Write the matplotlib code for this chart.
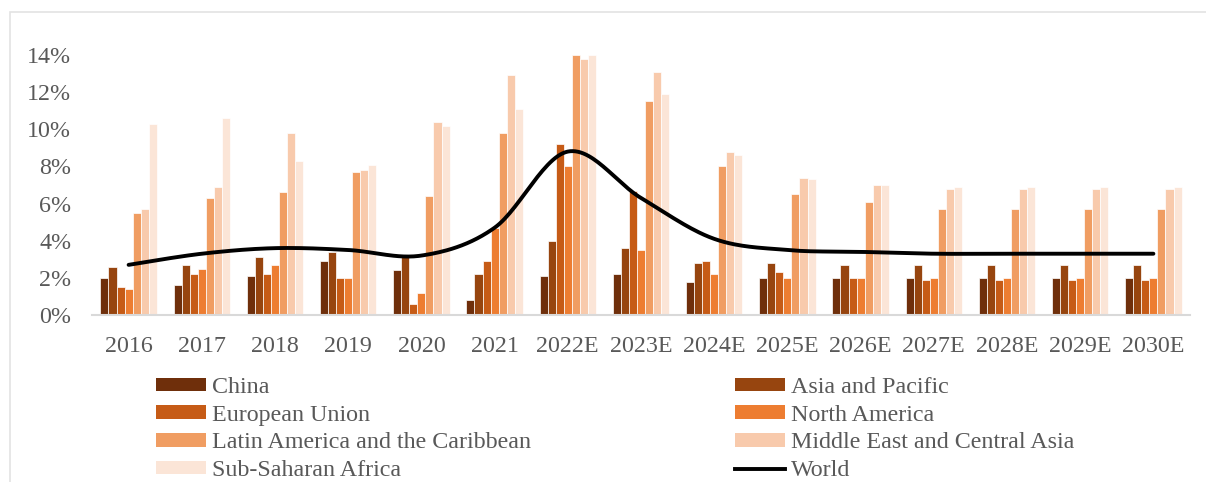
import numpy as np
import matplotlib
matplotlib.use('Agg')
from matplotlib import pyplot as plt
from matplotlib.patches import Patch, Rectangle
from matplotlib.lines import Line2D

# Growth rates by region, in percent
years = ['2016', '2017', '2018', '2019', '2020', '2021', '2022E', '2023E',
         '2024E', '2025E', '2026E', '2027E', '2028E', '2029E', '2030E']
china = [2.0, 1.6, 2.1, 2.9, 2.4, 0.8, 2.1, 2.2, 1.8, 2.0, 2.0, 2.0, 2.0, 2.0, 2.0]
asia_pacific = [2.6, 2.7, 3.1, 3.4, 3.1, 2.2, 4.0, 3.6, 2.8, 2.8, 2.7, 2.7, 2.7, 2.7, 2.7]
european_union = [1.5, 2.2, 2.2, 2.0, 0.6, 2.9, 9.2, 6.7, 2.9, 2.3, 2.0, 1.9, 1.9, 1.9, 1.9]
north_america = [1.4, 2.5, 2.7, 2.0, 1.2, 4.7, 8.0, 3.5, 2.2, 2.0, 2.0, 2.0, 2.0, 2.0, 2.0]
latin_america = [5.5, 6.3, 6.6, 7.7, 6.4, 9.8, 14.0, 11.5, 8.0, 6.5, 6.1, 5.7, 5.7, 5.7, 5.7]
middle_east = [5.7, 6.9, 9.8, 7.8, 10.4, 12.9, 13.8, 13.1, 8.8, 7.4, 7.0, 6.8, 6.8, 6.8, 6.8]
sub_saharan = [10.3, 10.6, 8.3, 8.1, 10.2, 11.1, 14.0, 11.9, 8.6, 7.3, 7.0, 6.9, 6.9, 6.9, 6.9]
world = [2.7, 3.3, 3.6, 3.5, 3.2, 4.7, 8.8, 6.3, 4.1, 3.5, 3.4, 3.3, 3.3, 3.3, 3.3]

series = [
    ('China', china, '#6F2F0B'),
    ('Asia and Pacific', asia_pacific, '#97450F'),
    ('European Union', european_union, '#C65B16'),
    ('North America', north_america, '#ED7D31'),
    ('Latin America and the Caribbean', latin_america, '#F09D62'),
    ('Middle East and Central Asia', middle_east, '#F8CAAC'),
    ('Sub-Saharan Africa', sub_saharan, '#FBE5D7'),
]

TEXT = '#595959'
FS = 17.3
plt.rcParams['font.family'] = ['Liberation Serif', 'DejaVu Serif']
plt.rcParams['font.size'] = FS


def smooth(xs, ys, n=30):
    # cubic bezier through every point, like a spreadsheet "smoothed line"
    pts = np.column_stack([xs, ys]).astype(float)
    out = []
    t = np.linspace(0, 1, n)[:, None]
    for i in range(len(pts) - 1):
        p0 = pts[max(i - 1, 0)]
        p1 = pts[i]
        p2 = pts[i + 1]
        p3 = pts[min(i + 2, len(pts) - 1)]
        c1 = p1 + (p2 - p0) / 6
        c2 = p2 - (p3 - p1) / 6
        seg = (1 - t) ** 3 * p1 + 3 * (1 - t) ** 2 * t * c1 + 3 * (1 - t) * t ** 2 * c2 + t ** 3 * p2
        out.append(seg if i == 0 else seg[1:])
    out = np.vstack(out)
    return out[:, 0], out[:, 1]


fig = plt.figure(figsize=(12.06, 4.82), dpi=100)
ax = fig.add_axes([92 / 1206, 1 - 315 / 482, 1098 / 1206, 260 / 482])

x = np.arange(len(years))
w = 0.11
for i, (name, vals, col) in enumerate(series):
    ax.bar(x + (i - 3) * w, vals, w, color=col, edgecolor='white', linewidth=0.5, label=name)

sx, sy = smooth(x, world)
ax.plot(sx, sy, color='black', lw=2.8, solid_capstyle='round', zorder=5)

ax.set_xlim(-0.5, len(years) - 0.5)
ax.set_ylim(0, 14)
ax.set_yticks(np.arange(0, 15, 2))
ax.set_yticklabels([f'{v}%' for v in range(0, 15, 2)])
ax.set_xticks(x)
ax.set_xticklabels(years)
ax.tick_params(axis='both', length=0, colors=TEXT, labelsize=FS)
ax.tick_params(axis='y', pad=15)
ax.tick_params(axis='x', pad=15)
for s in ['top', 'right', 'left']:
    ax.spines[s].set_visible(False)
ax.spines['bottom'].set_color('#D9D9D9')
ax.spines['bottom'].set_linewidth(1.5)

# chart area frame, clipped by the figure edges on the right and bottom
fig.patches.append(Rectangle((10 / 1206, -0.1), 1.2, 1.1 - 12 / 482, transform=fig.transFigure,
                             fill=False, edgecolor='#E3E3E3', linewidth=1.2))

handles = [Patch(facecolor=c, edgecolor='none') for _, _, c in series]
handles.append(Line2D([0], [0], color='black', lw=2.8))
labels = [n for n, _, _ in series] + ['World']
order = [0, 2, 4, 6, 1, 3, 5, 7]
leg = fig.legend([handles[i] for i in order], [labels[i] for i in order],
                 loc='upper left', bbox_to_anchor=(156 / 1206, 1 - 377 / 482),
                 ncol=2, frameon=False, handlelength=2.1, handleheight=0.49,
                 handletextpad=0.25, columnspacing=8.45, labelspacing=0.28,
                 borderpad=0, borderaxespad=0, fontsize=FS)
for t in leg.get_texts():
    t.set_color(TEXT)

fig.savefig('out.png', dpi=100)
